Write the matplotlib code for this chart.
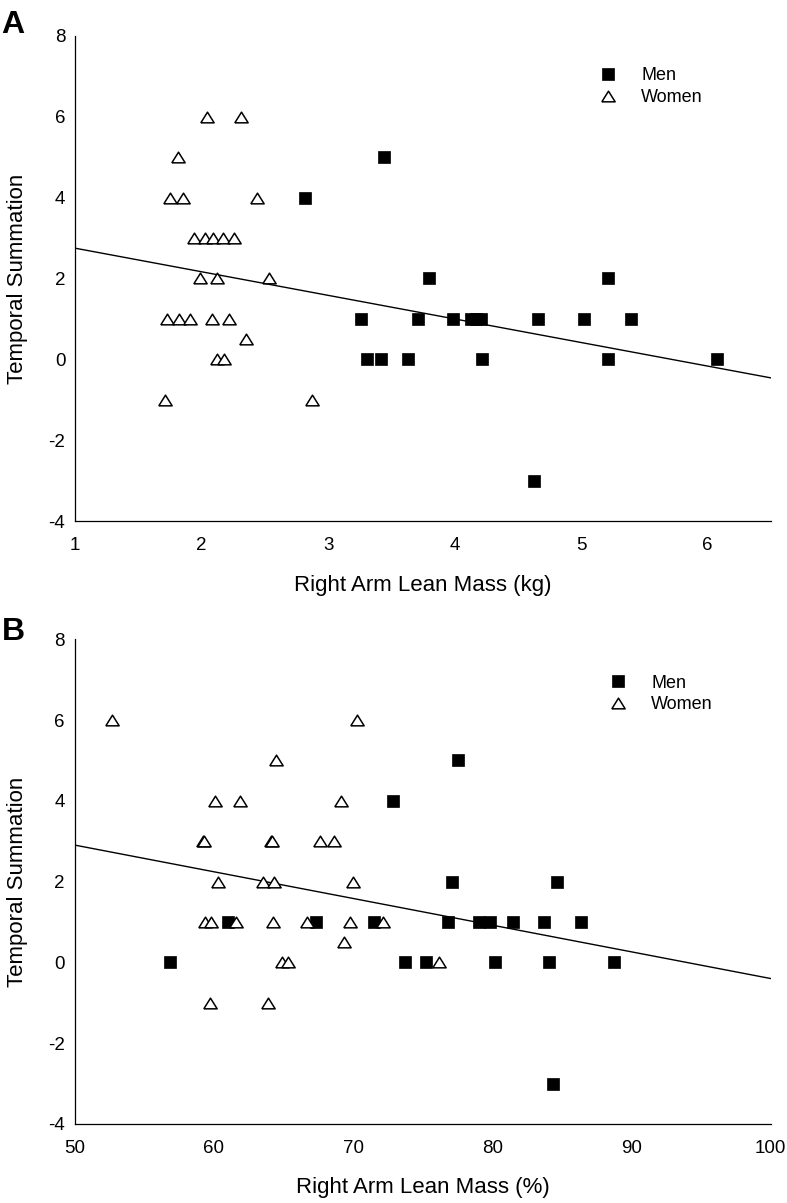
import numpy as np
import matplotlib
matplotlib.use("Agg")
import matplotlib.pyplot as plt

plt.rcParams['font.family'] = ['Liberation Sans', 'DejaVu Sans']
plt.rcParams['axes.unicode_minus'] = False

# panel A: right arm lean mass (kg)
men_kg = [2.82, 3.44, 3.26, 3.71, 3.99, 4.13, 4.17, 4.21, 4.66, 5.02, 5.39,
          3.80, 5.21, 3.31, 3.42, 3.63, 4.22, 5.21, 6.07, 4.63]
men_ts = [4, 5, 1, 1, 1, 1, 1, 1, 1, 1, 1,
          2, 2, 0, 0, 0, 0, 0, 0, -3]
women_kg = [2.04, 2.31, 1.81, 1.75, 1.85, 2.44, 1.94, 2.03, 2.09, 2.17, 2.26,
            1.99, 2.12, 2.53, 1.73, 1.82, 1.91, 2.08, 2.22, 2.35, 2.12, 2.18,
            1.71, 2.87]
women_ts = [6, 6, 5, 4, 4, 4, 3, 3, 3, 3, 3,
            2, 2, 2, 1, 1, 1, 1, 1, 0.5, 0, 0,
            -1, -1]

# panel B: right arm lean mass (%)
men_pct = [72.85, 77.5, 77.14, 84.63, 61.05, 67.33, 71.5, 76.85, 79.02, 79.86,
           81.48, 83.73, 86.34, 56.84, 73.75, 75.25, 80.18, 84.09, 88.76, 84.34]
men_ts_b = [4, 5, 2, 2, 1, 1, 1, 1, 1, 1,
            1, 1, 1, 0, 0, 0, 0, 0, 0, -3]
women_pct = [52.7, 70.3, 64.5, 60.1, 61.9, 69.1, 59.2, 59.3, 64.1, 64.2, 67.6,
             68.6, 60.3, 63.5, 64.3, 70.0, 59.35, 59.8, 61.6, 64.25, 66.7, 69.8,
             72.15, 69.35, 64.9, 65.3, 76.15, 59.7, 63.9]
women_ts_b = [6, 6, 5, 4, 4, 4, 3, 3, 3, 3, 3,
              3, 2, 2, 2, 2, 1, 1, 1, 1, 1, 1,
              1, 0.5, 0, 0, 0, -1, -1]

# fitted lines (intercept, slope)
fit_a = (3.334, -0.5836)
fit_b = (6.21, -0.0661)

tri = [(-1, -0.8), (1, -0.8), (0, 0.8), (-1, -0.8)]

fig = plt.figure(figsize=(7.87, 12.03), dpi=100)
ax_a = fig.add_axes([0.0953, 0.5669, 0.8844, 0.4032])
ax_b = fig.add_axes([0.0948, 0.0657, 0.8846, 0.4029])

panels = [
    (ax_a, men_kg, men_ts, women_kg, women_ts, fit_a, (1, 6.5), np.arange(1, 7, 1),
     "Right Arm Lean Mass (kg)", (0.753, 0.935), "A", 0.992),
    (ax_b, men_pct, men_ts_b, women_pct, women_ts_b, fit_b, (50, 100), np.arange(50, 101, 10),
     "Right Arm Lean Mass (%)", (0.7676, 0.927), "B", 0.487),
]

for ax, mx, my, wx, wy, fit, xlim, xticks, xlabel, leg_pos, letter, ly in panels:
    xs = np.array(xlim, dtype=float)
    ax.plot(xs, fit[0] + fit[1] * xs, color='black', lw=1.0, zorder=1)
    ax.plot(mx, my, ls='none', marker='s', ms=8.6, mfc='black', mec='black',
            mew=0.5, label='Men', zorder=2)
    ax.plot(wx, wy, ls='none', marker=tri, ms=9.6, mfc='white', mec='black',
            mew=1.1, label='Women', zorder=3)

    ax.set_xlim(*xlim)
    ax.set_ylim(-4, 8)
    ax.set_xticks(xticks)
    ax.set_yticks(np.arange(-4, 9, 2))
    ax.tick_params(length=0, labelsize=13.5)
    ax.tick_params(axis='y', pad=7)
    ax.tick_params(axis='x', pad=11.5)
    for side in ['top', 'right']:
        ax.spines[side].set_visible(False)
    for side in ['left', 'bottom']:
        ax.spines[side].set_linewidth(0.9)

    ax.set_xlabel(xlabel, fontsize=16)
    ax.xaxis.set_label_coords(0.5, -0.132)
    ax.xaxis.label.set_va('center')
    ax.set_ylabel("Temporal Summation", fontsize=16)
    ax.yaxis.set_label_coords(-0.082, 0.5)
    ax.yaxis.label.set_va('center')

    ax.legend(loc='upper left', bbox_to_anchor=leg_pos, frameon=False, fontsize=13,
              borderpad=0, borderaxespad=0, handlelength=1.0, handletextpad=1.33,
              labelspacing=0.25)

    fig.text(0.002, ly, letter, fontsize=23, fontweight='bold', va='top', ha='left')

fig.savefig("out.png", dpi=100)
